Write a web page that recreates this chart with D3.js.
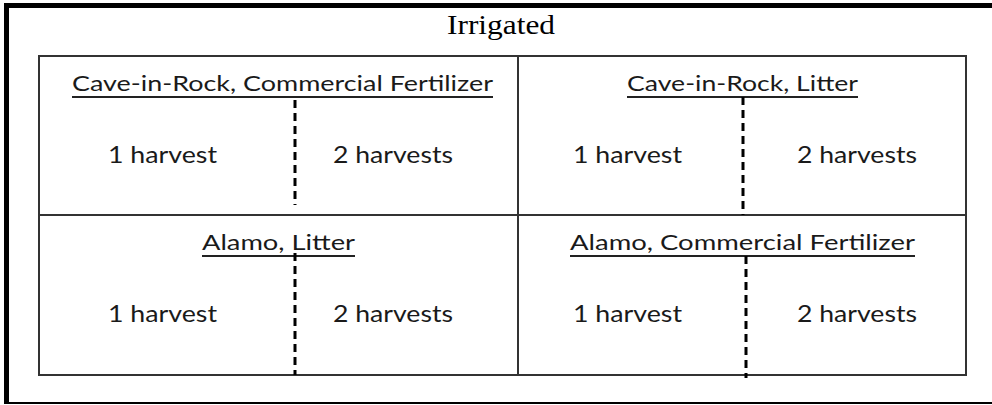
<!DOCTYPE html>
<html>
<head>
<meta charset="utf-8">
<script src="https://cdn.jsdelivr.net/npm/d3@7"></script>
<style>
  html, body { margin: 0; padding: 0; background: #fff; }
  svg { display: block; }
</style>
</head>
<body>
<svg></svg>
<script>
// diagram content
const heading = "Irrigated";
const cultivars = ["Cave-in-Rock", "Cave-in-Rock", "Alamo", "Alamo"];
const fertilizers = ["Commercial Fertilizer", "Litter", "Litter", "Commercial Fertilizer"];
const harvests = ["1 harvest", "2 harvests"];

window.onload = () => {
  const width = 992, height = 405;

  const svg = d3.select("svg")
    .attr("width", width)
    .attr("height", height)

  // grid edges (columns are not equal in the original)
  const colEdges = [39, 518, 966];
  const rowEdges = [56, 215, 375];

  // position inside a column / row, 0..1
  const colScale = i => d3.scaleLinear().domain([0, 1]).range([colEdges[i], colEdges[i + 1]]);
  const rowScale = j => d3.scaleLinear().domain([0, 1]).range([rowEdges[j], rowEdges[j + 1]]);

  const panels = cultivars.map((c, i) => ({
    title: c + ", " + fertilizers[i],
    col: i % 2,
    row: Math.floor(i / 2)
  }));

  // per panel tweaks: title start / width, dash x / extent
  const titleBox = [[72, 421], [627, 231], [202, 153], [570, 345]];
  const dashBox = [[295, 100, 205], [743, 97, 215], [295, 253, 375], [746, 256, 378]];
  const labelCenters = [[162.5, 393], [627.5, 857]];
  const labelWidths = [109, 120];

  // outer frame
  svg.append("line").attr("x1", 4).attr("x2", width).attr("y1", 5.5).attr("y2", 5.5)
    .attr("stroke", "#000").attr("stroke-width", 5);
  svg.append("line").attr("x1", 6.5).attr("x2", 6.5).attr("y1", 3).attr("y2", 404)
    .attr("stroke", "#000").attr("stroke-width", 5);
  svg.append("line").attr("x1", 4).attr("x2", width).attr("y1", 403).attr("y2", 403)
    .attr("stroke", "#000").attr("stroke-width", 2);

  svg.append("text")
    .attr("x", 447).attr("y", 34)
    .attr("textLength", 108).attr("lengthAdjust", "spacingAndGlyphs")
    .style("font-family", "'Liberation Serif', 'Times New Roman', serif")
    .style("font-size", "27px")
    .text(heading);

  // grid
  const grid = svg.append("g").attr("stroke", "#333").attr("stroke-width", 2).attr("fill", "none");
  grid.append("rect")
    .attr("x", colEdges[0]).attr("y", rowEdges[0])
    .attr("width", colEdges[2] - colEdges[0]).attr("height", rowEdges[2] - rowEdges[0]);
  grid.append("line").attr("x1", colEdges[1]).attr("x2", colEdges[1])
    .attr("y1", rowEdges[0]).attr("y2", rowEdges[2]);
  grid.append("line").attr("x1", colEdges[0]).attr("x2", colEdges[2])
    .attr("y1", rowEdges[1]).attr("y2", rowEdges[1]);

  const g = svg.selectAll("g.panel")
    .data(panels)
    .join("g")
    .attr("class", "panel")

  const sansFont = "Lato, 'Open Sans', sans-serif";

  // titles, underlined
  g.append("text")
    .attr("x", (d, i) => titleBox[i][0])
    .attr("y", d => rowScale(d.row)(0) + 34.5)
    .attr("textLength", (d, i) => titleBox[i][1])
    .attr("lengthAdjust", "spacingAndGlyphs")
    .style("font-family", sansFont)
    .style("font-size", "21px")
    .style("fill", "#1a1a1a")
    .text(d => d.title);

  g.append("line")
    .attr("x1", (d, i) => titleBox[i][0])
    .attr("x2", (d, i) => titleBox[i][0] + titleBox[i][1])
    .attr("y1", d => rowScale(d.row)(0) + 41)
    .attr("y2", d => rowScale(d.row)(0) + 41)
    .attr("stroke", "#222").attr("stroke-width", 2);

  // dashed separator
  g.append("line")
    .attr("x1", (d, i) => dashBox[i][0]).attr("x2", (d, i) => dashBox[i][0])
    .attr("y1", (d, i) => dashBox[i][1]).attr("y2", (d, i) => dashBox[i][2])
    .attr("stroke", "#000").attr("stroke-width", 3)
    .attr("stroke-dasharray", "8,5");

  // harvest labels
  g.selectAll("text.harvest")
    .data(d => harvests.map((h, k) => ({ h, k, col: d.col, row: d.row })))
    .join("text")
    .attr("class", "harvest")
    .attr("x", d => labelCenters[d.col][d.k])
    .attr("y", d => rowScale(d.row)(0) + 106.5)
    .attr("text-anchor", "middle")
    .attr("textLength", d => labelWidths[d.k])
    .attr("lengthAdjust", "spacingAndGlyphs")
    .style("font-family", sansFont)
    .style("font-size", "24px")
    .style("fill", "#1a1a1a")
    .text(d => d.h);
};
</script>
</body>
</html>
